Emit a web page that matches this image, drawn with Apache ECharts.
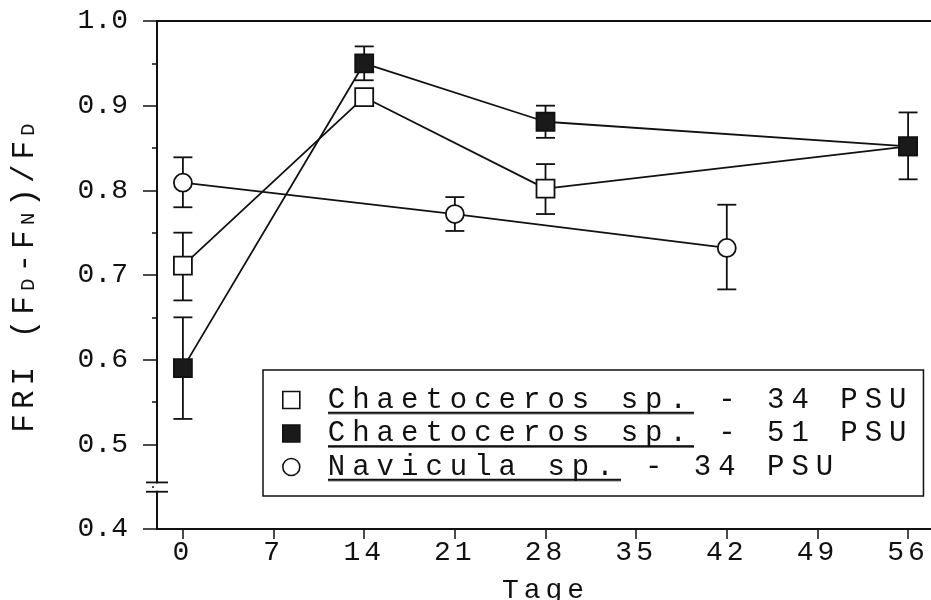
<!DOCTYPE html>
<html>
<head>
<meta charset="utf-8">
<style>
  html, body { margin: 0; padding: 0; background: #fff; }
  #chart { width: 931px; height: 600px; }
</style>
<script src="https://cdn.jsdelivr.net/npm/echarts@6/dist/echarts.min.js"></script>
</head>
<body>
<div id="chart"></div>
<script>
// ---------- data ----------
const seriesNames = ['Chaetoceros sp. - 34 PSU', 'Chaetoceros sp. - 51 PSU', 'Navicula sp. - 34 PSU'];

const daysChaeto34 = [0, 14, 28, 56];
const chaeto34     = [0.711, 0.910, 0.802, 0.852];
const chaeto34Lo   = [0.670, 0.910, 0.772, 0.852];
const chaeto34Hi   = [0.750, 0.910, 0.831, 0.852];

const daysChaeto51 = [0, 14, 28, 56];
const chaeto51     = [0.590, 0.950, 0.881, 0.852];
const chaeto51Lo   = [0.530, 0.930, 0.862, 0.813];
const chaeto51Hi   = [0.650, 0.970, 0.900, 0.892];

const daysNavicula = [0, 21, 42];
const navicula     = [0.809, 0.772, 0.732];
const naviculaLo   = [0.780, 0.752, 0.683];
const naviculaHi   = [0.839, 0.792, 0.783];

const xTicks = [0, 7, 14, 21, 28, 35, 42, 49, 56];
const yTicks = [0.4, 0.5, 0.6, 0.7, 0.8, 0.9, 1.0];
const axisBreak = [0.444, 0.455];

// ---------- typewriter-like letter spacing (font family tag "lsN" = N px) ----------
(function () {
  const P = CanvasRenderingContext2D.prototype;
  function applyLS(ctx) {
    const m = /ls(\d+)/.exec(ctx.font || '');
    const v = (m ? m[1] : '0') + 'px';
    try { if (ctx.letterSpacing !== v) ctx.letterSpacing = v; } catch (e) {}
  }
  ['fillText', 'strokeText', 'measureText'].forEach(function (fn) {
    const orig = P[fn];
    P[fn] = function () { applyLS(this); return orig.apply(this, arguments); };
  });
})();

const INK = '#111';
const fam = n => "'Liberation Mono', ls" + n;

// underline image for rich text
const ul = document.createElement('canvas');
ul.width = 4; ul.height = 40;
(function () { const c = ul.getContext('2d'); c.fillStyle = INK; c.fillRect(0, 33, 4, 2.6); })();

function pack(xs, ys, lo, hi) { return xs.map((x, i) => [x, ys[i], lo[i], hi[i]]); }

function errRender(params, api) {
  const x = api.value(0), lo = api.value(2), hi = api.value(3);
  if (hi - lo < 1e-9) return null;
  const a = api.coord([x, hi]), b = api.coord([x, lo]);
  const h = 9.5, st = { stroke: INK, lineWidth: 1.8 };
  return { type: 'group', children: [
    { type: 'line', shape: { x1: a[0], y1: a[1], x2: b[0], y2: b[1] }, style: st },
    { type: 'line', shape: { x1: a[0] - h, y1: a[1], x2: a[0] + h, y2: a[1] }, style: st },
    { type: 'line', shape: { x1: b[0] - h, y1: b[1], x2: b[0] + h, y2: b[1] }, style: st }
  ]};
}

function breakRender(params, api) {
  const top = api.coord([api.value(0), axisBreak[1]]);
  const bot = api.coord([api.value(0), axisBreak[0]]);
  const st = { stroke: INK, lineWidth: 1.8 };
  return { type: 'group', children: [
    { type: 'rect', shape: { x: top[0] - 3, y: top[1] + 1, width: 6, height: bot[1] - top[1] - 2 }, style: { fill: '#fff' } },
    { type: 'line', shape: { x1: top[0] - 11, y1: top[1], x2: top[0] + 11, y2: top[1] }, style: st },
    { type: 'line', shape: { x1: bot[0] - 11, y1: bot[1], x2: bot[0] + 11, y2: bot[1] }, style: st }
  ]};
}

const lineBase = {
  type: 'line', symbolSize: 18, z: 3,
  lineStyle: { color: INK, width: 1.8 },
  emphasis: { disabled: true }, silent: true
};

const chart = echarts.init(document.getElementById('chart'), null, { renderer: 'canvas' });
chart.setOption({
  animation: false,
  backgroundColor: '#fff',
  grid: { left: 157, top: 21, right: -3, bottom: 71, containLabel: false, outerBoundsMode: 'none' },
  xAxis: [{
    type: 'value', min: -2, max: 58, position: 'bottom',
    name: 'Tage', nameLocation: 'middle', nameGap: 38,
    nameTextStyle: { fontFamily: fam(5), fontSize: 28, color: INK },
    axisLine: { show: true, onZero: false, lineStyle: { color: INK, width: 2 } },
    axisTick: { show: true, inside: false, length: 10, customValues: xTicks, lineStyle: { color: INK, width: 1.5 } },
    axisLabel: { customValues: xTicks, margin: 8, fontFamily: fam(4), fontSize: 28, color: INK },
    splitLine: { show: false }
  }, {
    type: 'value', min: -2, max: 58, position: 'top',
    axisLine: { show: true, onZero: false, lineStyle: { color: INK, width: 2 } },
    axisTick: { show: false }, axisLabel: { show: false }, splitLine: { show: false }
  }],
  yAxis: {
    type: 'value', min: yTicks[0], max: yTicks[yTicks.length - 1], interval: 0.1,
    name: 'FRI (F{s|D}-F{s|N})/F{s|D}', nameLocation: 'middle', nameGap: 115,
    nameTextStyle: {
      fontFamily: fam(5), fontSize: 31, color: INK, lineHeight: 34,
      rich: { s: { fontFamily: fam(6), fontSize: 21, lineHeight: 10, verticalAlign: 'bottom', color: INK } }
    },
    axisLine: { show: true, onZero: false, lineStyle: { color: INK, width: 2 } },
    axisTick: { show: true, inside: false, length: 14, lineStyle: { color: INK, width: 1.5 } },
    minorTick: { show: true, splitNumber: 2, length: 5, lineStyle: { color: INK, width: 1.5 } },
    axisLabel: { margin: 29, fontFamily: fam(0), fontSize: 28, color: INK, formatter: v => v.toFixed(1) },
    splitLine: { show: false }
  },
  legend: {
    orient: 'vertical', left: 263, top: 370,
    padding: [12, 10, 11, 19], itemGap: -2.5, itemWidth: 17, itemHeight: 17,
    borderColor: INK, borderWidth: 1.5, backgroundColor: '#fff',
    selectedMode: false,
    data: [
      { name: seriesNames[0], icon: 'rect', itemStyle: { color: '#fff', borderColor: INK, borderWidth: 1.6 } },
      { name: seriesNames[1], icon: 'rect', itemStyle: { color: '#1a1a1a', borderColor: INK, borderWidth: 1.6 } },
      { name: seriesNames[2], icon: 'circle', itemStyle: { color: '#fff', borderColor: INK, borderWidth: 1.6 } }
    ],
    formatter: n => n.replace(/^(\S+ sp\.)/, '{u|$1}'),
    textStyle: {
      fontFamily: fam(7), fontSize: 29, lineHeight: 27, color: INK, padding: [0, 0, 0, 23],
      rich: { u: { fontFamily: fam(7), fontSize: 29, lineHeight: 27, color: INK, backgroundColor: { image: ul } } }
    }
  },
  series: [
    { type: 'custom', name: 'err34', z: 2, silent: true, renderItem: errRender, data: pack(daysChaeto34, chaeto34, chaeto34Lo, chaeto34Hi) },
    { type: 'custom', name: 'err51', z: 2, silent: true, renderItem: errRender, data: pack(daysChaeto51, chaeto51, chaeto51Lo, chaeto51Hi) },
    { type: 'custom', name: 'errNav', z: 2, silent: true, renderItem: errRender, data: pack(daysNavicula, navicula, naviculaLo, naviculaHi) },
    Object.assign({}, lineBase, {
      name: seriesNames[0], symbol: 'rect',
      itemStyle: { color: '#fff', borderColor: INK, borderWidth: 1.8 },
      data: daysChaeto34.map((d, i) => [d, chaeto34[i]])
    }),
    Object.assign({}, lineBase, {
      name: seriesNames[1], symbol: 'rect',
      itemStyle: { color: '#1a1a1a', borderColor: INK, borderWidth: 1.8 },
      data: daysChaeto51.map((d, i) => [d, chaeto51[i]])
    }),
    Object.assign({}, lineBase, {
      name: seriesNames[2], symbol: 'circle',
      itemStyle: { color: '#fff', borderColor: INK, borderWidth: 1.8 },
      data: daysNavicula.map((d, i) => [d, navicula[i]])
    }),
    { type: 'custom', name: 'axisBreak', z: 10, silent: true, clip: false, renderItem: breakRender, data: [[-2, 0.45]] }
  ]
});
</script>
</body>
</html>
